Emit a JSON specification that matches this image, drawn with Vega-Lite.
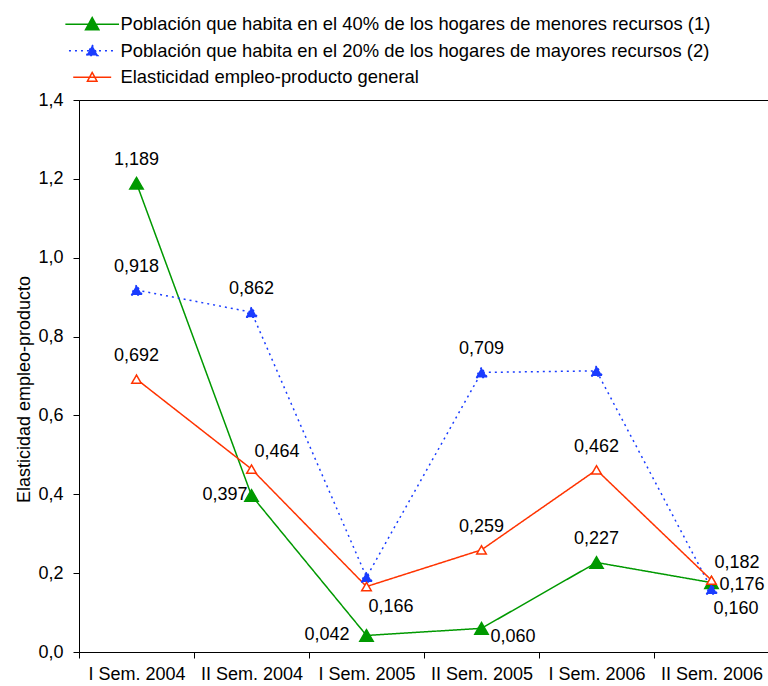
{
  "$schema": "https://vega.github.io/schema/vega-lite/v6.json",
  "autosize": {"type": "none"},
  "padding": {"left": 79, "top": 100, "right": 0, "bottom": 34},
  "width": 690,
  "height": 552,
  "background": "white",
  "config": {
    "font": "Liberation Sans",
    "locale": {"number": {"decimal": ",", "thousands": ".", "grouping": [3], "currency": ["", ""]}},
    "view": {"stroke": "black", "strokeWidth": 1},
    "axis": {"labelFont": "Liberation Sans", "titleFont": "Liberation Sans", "labelColor": "black", "titleColor": "black", "domainColor": "black", "tickColor": "black", "labelFontSize": 18, "titleFontSize": 18, "titleFontWeight": "normal", "grid": false, "tickSize": 6}
  },
  "data": {
    "values": [
      {"serie": "Población que habita en el 40% de los hogares de menores recursos (1)", "periodo": "I Sem. 2004", "valor": 1.189},
      {"serie": "Población que habita en el 40% de los hogares de menores recursos (1)", "periodo": "II Sem. 2004", "valor": 0.397},
      {"serie": "Población que habita en el 40% de los hogares de menores recursos (1)", "periodo": "I Sem. 2005", "valor": 0.042},
      {"serie": "Población que habita en el 40% de los hogares de menores recursos (1)", "periodo": "II Sem. 2005", "valor": 0.060},
      {"serie": "Población que habita en el 40% de los hogares de menores recursos (1)", "periodo": "I Sem. 2006", "valor": 0.227},
      {"serie": "Población que habita en el 40% de los hogares de menores recursos (1)", "periodo": "II Sem. 2006", "valor": 0.176},
      {"serie": "Población que habita en el 20% de los hogares de mayores recursos (2)", "periodo": "I Sem. 2004", "valor": 0.918},
      {"serie": "Población que habita en el 20% de los hogares de mayores recursos (2)", "periodo": "II Sem. 2004", "valor": 0.862},
      {"serie": "Población que habita en el 20% de los hogares de mayores recursos (2)", "periodo": "I Sem. 2005", "valor": 0.19},
      {"serie": "Población que habita en el 20% de los hogares de mayores recursos (2)", "periodo": "II Sem. 2005", "valor": 0.709},
      {"serie": "Población que habita en el 20% de los hogares de mayores recursos (2)", "periodo": "I Sem. 2006", "valor": 0.713},
      {"serie": "Población que habita en el 20% de los hogares de mayores recursos (2)", "periodo": "II Sem. 2006", "valor": 0.160},
      {"serie": "Elasticidad empleo-producto general", "periodo": "I Sem. 2004", "valor": 0.692},
      {"serie": "Elasticidad empleo-producto general", "periodo": "II Sem. 2004", "valor": 0.464},
      {"serie": "Elasticidad empleo-producto general", "periodo": "I Sem. 2005", "valor": 0.166},
      {"serie": "Elasticidad empleo-producto general", "periodo": "II Sem. 2005", "valor": 0.259},
      {"serie": "Elasticidad empleo-producto general", "periodo": "I Sem. 2006", "valor": 0.462},
      {"serie": "Elasticidad empleo-producto general", "periodo": "II Sem. 2006", "valor": 0.182}
    ]
  },
  "encoding": {
    "x": {"field": "periodo", "type": "nominal", "sort": null,
      "scale": {"paddingInner": 0, "paddingOuter": 0},
      "axis": {"title": null, "labelAngle": 0, "tickBand": "extent", "labelPadding": 7}},
    "y": {"field": "valor", "type": "quantitative",
      "scale": {"domain": [0, 1.4], "nice": false},
      "axis": {"title": "Elasticidad empleo-producto", "values": [0, 0.2, 0.4, 0.6, 0.8, 1.0, 1.2, 1.4], "format": ".1f", "labelPadding": 10, "titleX": -55, "titleY": 289, "titleAngle": -90, "titleBaseline": "middle", "titleAlign": "center"}}
  },
  "layer": [
    {
      "encoding": {
        "stroke": {"field": "serie", "type": "nominal", "sort": null,
          "scale": {"domain": ["Población que habita en el 40% de los hogares de menores recursos (1)", "Población que habita en el 20% de los hogares de mayores recursos (2)", "Elasticidad empleo-producto general"], "range": ["#009900", "#1a3cff", "#ff3300"]},
          "legend": {"title": null, "orient": "none", "legendX": 4, "legendY": -85, "padding": 0, "labelFontSize": 18.4, "labelFont": "Liberation Sans", "labelColor": "black", "labelOffset": 19, "rowPadding": 7.5, "symbolSize": 144, "symbolStrokeWidth": 1.5, "symbolType": "M-4,0H4M0,-1L1,0.83L-1,0.83Z", "labelLimit": 0}},
        "strokeDash": {"field": "serie", "type": "nominal", "sort": null,
          "scale": {"domain": ["Población que habita en el 40% de los hogares de menores recursos (1)", "Población que habita en el 20% de los hogares de mayores recursos (2)", "Elasticidad empleo-producto general"], "range": [[1, 0], [2, 4], [1, 0]]},
          "legend": {"title": null, "orient": "none", "legendX": 4, "legendY": -85, "padding": 0, "labelFontSize": 18.4, "labelFont": "Liberation Sans", "labelColor": "black", "labelOffset": 19, "rowPadding": 7.5, "symbolSize": 144, "symbolStrokeWidth": 1.5, "symbolType": "M-4,0H4M0,-1L1,0.83L-1,0.83Z", "labelLimit": 0}}
      },
      "layer": [
        {"mark": {"type": "line", "strokeWidth": 1.5}},
        {"mark": {"type": "point", "shape": "triangle-up", "opacity": 1, "strokeWidth": 1.5, "filled": false},
          "encoding": {
            "fill": {"field": "serie", "type": "nominal", "sort": null,
              "scale": {"domain": ["Población que habita en el 40% de los hogares de menores recursos (1)", "Población que habita en el 20% de los hogares de mayores recursos (2)", "Elasticidad empleo-producto general"], "range": ["#009900", "#1a3cff", "white"]},
              "legend": {"title": null, "orient": "none", "legendX": 4, "legendY": -85, "padding": 0, "labelFontSize": 18.4, "labelFont": "Liberation Sans", "labelColor": "black", "labelOffset": 19, "rowPadding": 7.5, "symbolSize": 144, "symbolStrokeWidth": 1.5, "symbolType": "M-4,0H4M0,-1L1,0.83L-1,0.83Z", "labelLimit": 0}},
            "size": {"field": "serie", "type": "nominal", "sort": null,
              "scale": {"domain": ["Población que habita en el 40% de los hogares de menores recursos (1)", "Población que habita en el 20% de los hogares de mayores recursos (2)", "Elasticidad empleo-producto general"], "range": [180, 90, 200]},
              "legend": null}
          }}
      ]
    },
    {
      "transform": [{"filter": "(indexof(datum.serie,'menores')>=0 && (datum.periodo=='I Sem. 2004' || datum.periodo=='I Sem. 2006')) || (indexof(datum.serie,'mayores')>=0 && (datum.periodo=='I Sem. 2004' || datum.periodo=='II Sem. 2004' || datum.periodo=='II Sem. 2005')) || (indexof(datum.serie,'general')>=0 && (datum.periodo=='I Sem. 2004' || datum.periodo=='II Sem. 2005' || datum.periodo=='I Sem. 2006'))"}],
      "mark": {"type": "text", "align": "center", "baseline": "middle", "dy": -23, "fontSize": 18, "color": "black"},
      "encoding": {"text": {"field": "valor", "type": "quantitative", "format": ".3f"}}
    },
    {
      "transform": [{"filter": "indexof(datum.serie,'menores')>=0 && datum.periodo=='II Sem. 2004'"}],
      "mark": {"type": "text", "align": "right", "baseline": "middle", "dx": -4, "dy": 0, "fontSize": 18, "color": "black"},
      "encoding": {"text": {"field": "valor", "type": "quantitative", "format": ".3f"}}
    },
    {
      "transform": [{"filter": "indexof(datum.serie,'menores')>=0 && datum.periodo=='I Sem. 2005'"}],
      "mark": {"type": "text", "align": "right", "baseline": "middle", "dx": -17, "dy": 0, "fontSize": 18, "color": "black"},
      "encoding": {"text": {"field": "valor", "type": "quantitative", "format": ".3f"}}
    },
    {
      "transform": [{"filter": "indexof(datum.serie,'general')>=0 && (datum.periodo=='II Sem. 2004' || datum.periodo=='II Sem. 2006')"}],
      "mark": {"type": "text", "align": "left", "baseline": "middle", "dx": 3, "dy": -17, "fontSize": 18, "color": "black"},
      "encoding": {"text": {"field": "valor", "type": "quantitative", "format": ".3f"}}
    },
    {
      "transform": [{"filter": "(indexof(datum.serie,'general')>=0 && datum.periodo=='I Sem. 2005') || (indexof(datum.serie,'mayores')>=0 && datum.periodo=='II Sem. 2006')"}],
      "mark": {"type": "text", "align": "left", "baseline": "middle", "dx": 2, "dy": 20, "fontSize": 18, "color": "black"},
      "encoding": {"text": {"field": "valor", "type": "quantitative", "format": ".3f"}}
    },
    {
      "transform": [{"filter": "indexof(datum.serie,'menores')>=0 && datum.periodo=='II Sem. 2005'"}],
      "mark": {"type": "text", "align": "left", "baseline": "middle", "dx": 9, "dy": 9, "fontSize": 18, "color": "black"},
      "encoding": {"text": {"field": "valor", "type": "quantitative", "format": ".3f"}}
    },
    {
      "transform": [{"filter": "indexof(datum.serie,'menores')>=0 && datum.periodo=='II Sem. 2006'"}],
      "mark": {"type": "text", "align": "left", "baseline": "middle", "dx": 8, "dy": 2, "fontSize": 18, "color": "black"},
      "encoding": {"text": {"field": "valor", "type": "quantitative", "format": ".3f"}}
    }
  ]
}
